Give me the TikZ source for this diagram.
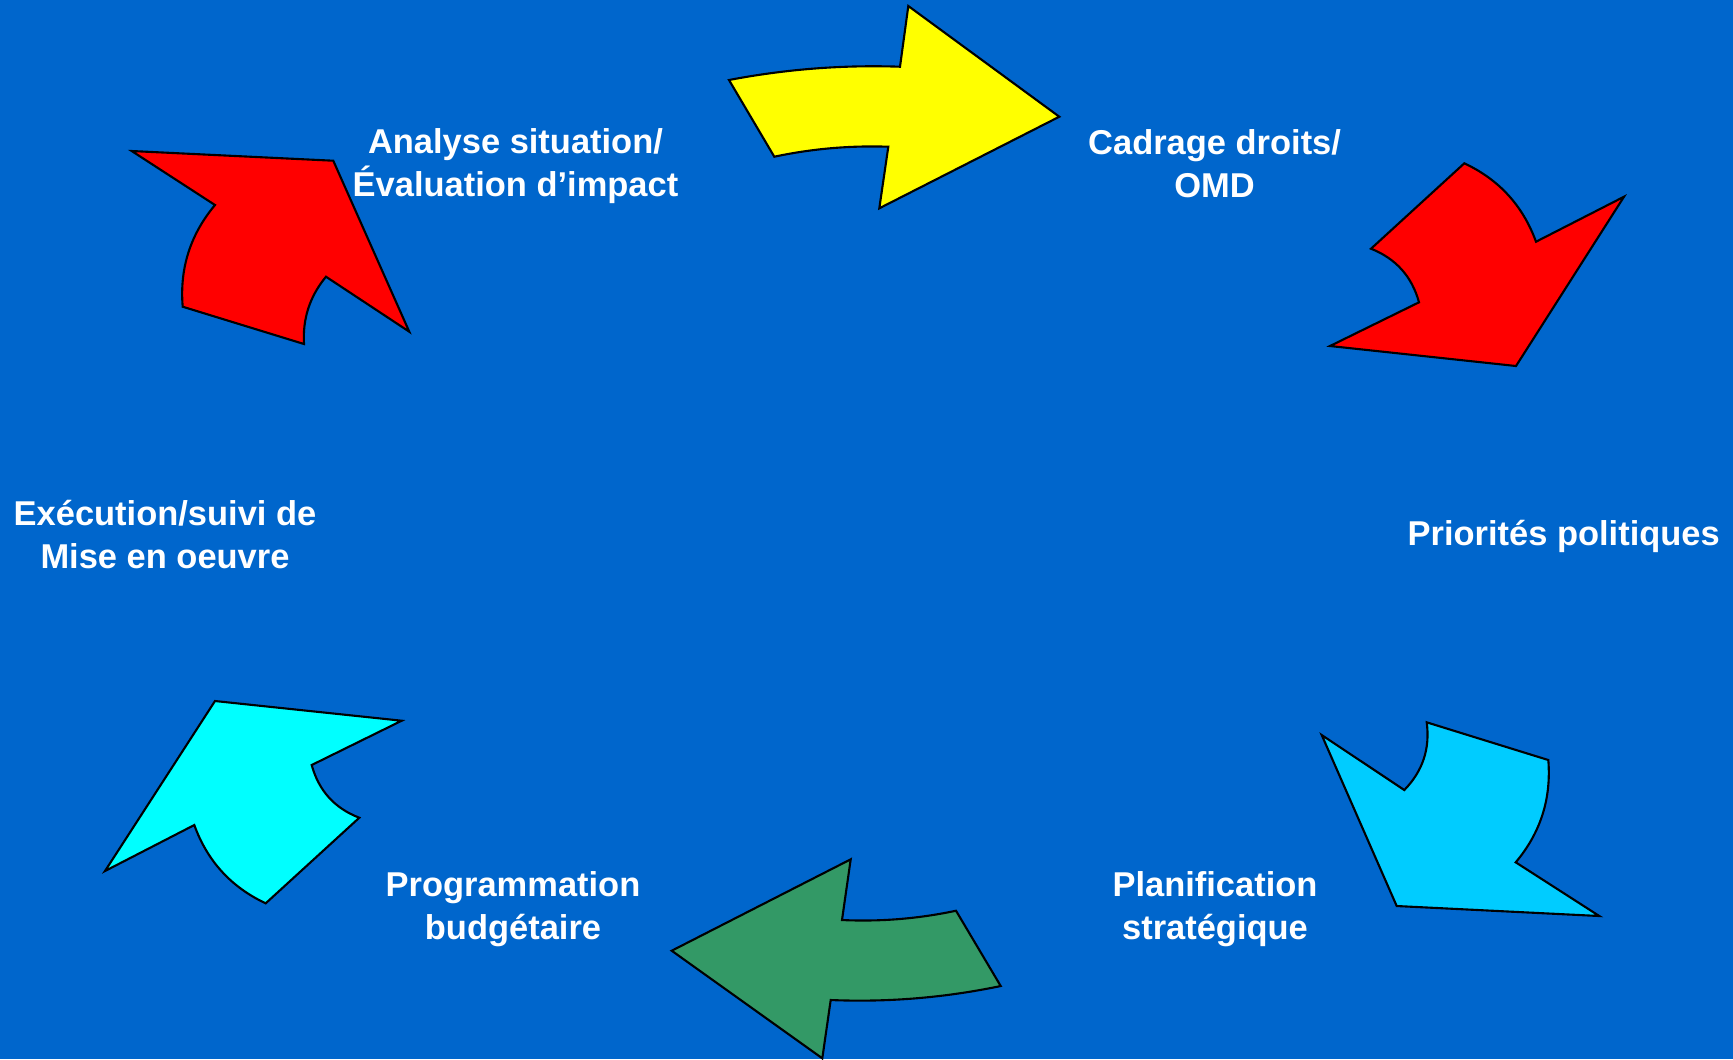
\documentclass[tikz,border=0pt]{standalone}
\usepackage{fontspec}
\setmainfont{Liberation Sans}
\usepackage{xcolor}
\usepackage{tikz}
\usetikzlibrary{positioning}

\definecolor{bgblue}{RGB}{0,102,204}
\definecolor{arrowyellow}{RGB}{255,255,0}
\definecolor{arrowred}{RGB}{255,0,0}
\definecolor{arrowsky}{RGB}{0,204,255}
\definecolor{arrowgreen}{RGB}{51,153,102}
\definecolor{arrowcyan}{RGB}{0,255,255}

\begin{document}
\begin{tikzpicture}[
    x=0.01cm, y=-0.01cm,
    cyclearrow/.style={draw=black, line width=0.6pt, line join=miter},
    stage/.style={text=white, align=center, inner sep=0pt,
        font=\fontsize{9.8}{12.2}\selectfont\bfseries}
]
    % background
    \fill[bgblue] (0,0) rectangle (1733,1059);
    \useasboundingbox (0,0) rectangle (1733,1059);

    % arrows of the cycle
    \draw[cyclearrow, fill=arrowyellow] (729,80)
        .. controls (785.5,69.2) and (842.5,64.7) .. (900,66.7)
        -- (908.3,6) -- (1059.3,116.7) -- (879.3,208.3) -- (888.3,146.7)
        .. controls (849.9,145.4) and (811.9,148.7) .. (774.3,156.7) -- cycle;
    \draw[cyclearrow, fill=arrowred] (1516,366) -- (1330,346) -- (1419,302.3)
        .. controls (1411.9,276.4) and (1395.9,258.6) .. (1371,248.7)
        -- (1464.3,163.3)
        .. controls (1499,179.5) and (1522.9,205.7) .. (1536,241.7)
        -- (1624,196.7) -- cycle;
    \draw[cyclearrow, fill=arrowsky] (1321.7,735) -- (1404.3,790)
        .. controls (1422.8,771.1) and (1430.2,748.5) .. (1426.7,722.3)
        -- (1548.3,760)
        .. controls (1551.4,798.6) and (1540.6,832.7) .. (1515.7,862.3)
        -- (1599.3,916) -- (1396.7,906) -- cycle;
    \draw[cyclearrow, fill=arrowgreen] (671.7,950.7) -- (850.7,859.3) -- (842,920)
        .. controls (880.4,921.8) and (918.4,918.7) .. (956,910.7)
        -- (1000.7,986)
        .. controls (944.6,997.7) and (887.9,1002.4) .. (830.7,1000)
        -- (822.3,1058.3) -- cycle;
    \draw[cyclearrow, fill=arrowcyan] (215,701) -- (401.7,720.7) -- (311.7,765)
        .. controls (318.7,790.6) and (334.5,808.2) .. (359.3,817.7)
        -- (265.7,903.3)
        .. controls (231.1,887.1) and (207.3,861) .. (194.3,825)
        -- (105,871) -- cycle;
    \draw[cyclearrow, fill=arrowred] (131.7,151) -- (333.3,160.7) -- (409.3,331.7)
        -- (326,276.7)
        .. controls (309.8,296.2) and (302.5,318.7) .. (304,344)
        -- (182.7,306.7)
        .. controls (179.5,268.4) and (190.3,234.5) .. (215,205) -- cycle;

    % stages
    \node[stage] (analyse) at (515.5,166) {Analyse situation/\\Évaluation d’impact};
    \node[stage] (cadrage) at (1214.6,163.5) {Cadrage droits/\\OMD};
    \node[stage] (priorites) at (1563.7,536.9) {Priorités politiques};
    \node[stage] (planif) at (1215,909.5) {Planification\\stratégique};
    \node[stage] (budget) at (513,909) {Programmation\\budgétaire};
    \node[stage] (execution) at (165,534.5) {Exécution/suivi de\\Mise en oeuvre};
\end{tikzpicture}
\end{document}
